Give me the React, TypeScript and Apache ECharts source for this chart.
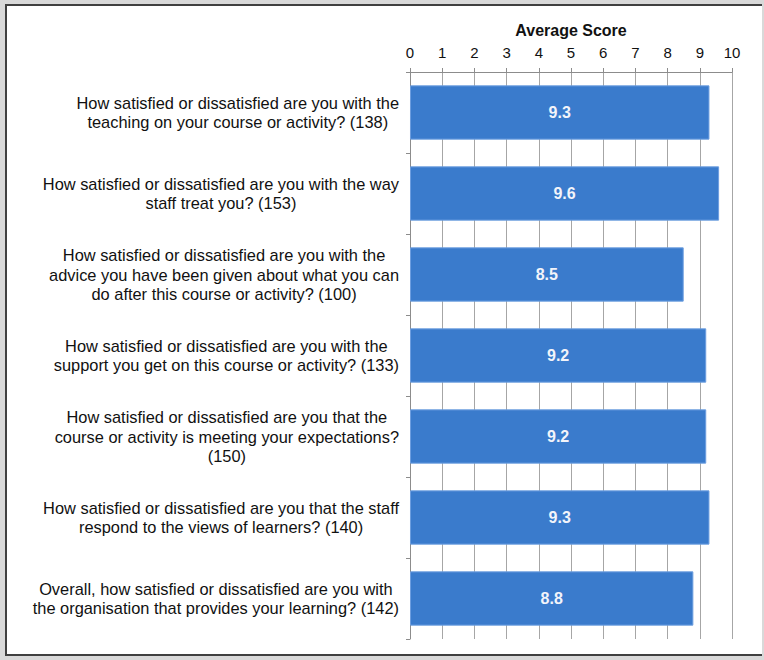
import React, { useEffect, useRef } from "react";
import * as echarts from "echarts";

// Survey questions, one entry per line of the wrapped label
const questions: string[][] = [
  ["How satisfied or dissatisfied are you with the", "teaching on your course or activity? (138)"],
  ["How satisfied or dissatisfied are you with the way", "staff treat you? (153)"],
  [
    "How satisfied or dissatisfied are you with the",
    "advice you have been given about what you can",
    "do after this course or activity? (100)",
  ],
  ["How satisfied or dissatisfied are you with the", "support you get on this course or activity? (133)"],
  [
    "How satisfied or dissatisfied are you that the",
    "course or activity is meeting your expectations?",
    "(150)",
  ],
  ["How satisfied or dissatisfied are you that the staff", "respond to the views of learners? (140)"],
  [
    "Overall, how satisfied or dissatisfied are you with",
    "the organisation that provides your learning? (142)",
  ],
];

const averageScores: number[] = [9.3, 9.6, 8.5, 9.2, 9.2, 9.3, 8.8];

const scoreAxisMin = 0;
const scoreAxisMax = 10;
const scoreAxisStep = 1;

const FONT = "'Liberation Sans', Arial, sans-serif";

export default function App() {
  const ref = useRef<HTMLDivElement>(null);

  useEffect(() => {
    if (!ref.current) return;
    const chart = echarts.init(ref.current, null, { renderer: "svg" });
    const categories = questions.map((q) => q.join("\n"));
    chart.setOption({
      animation: false,
      textStyle: { fontFamily: FONT },
      grid: { left: 410, right: 32, top: 72, bottom: 21 },
      xAxis: {
        type: "value",
        position: "top",
        min: scoreAxisMin,
        max: scoreAxisMax,
        interval: scoreAxisStep,
        name: "Average Score",
        nameLocation: "middle",
        nameGap: 34,
        nameTextStyle: { fontFamily: FONT, fontWeight: "bold", fontSize: 16, color: "#111" },
        axisLine: { show: true, lineStyle: { color: "#8c8c8c", width: 1 } },
        axisTick: { show: true, length: 4, lineStyle: { color: "#8c8c8c" } },
        axisLabel: { fontFamily: FONT, fontSize: 15, color: "#111", margin: 12 },
        splitLine: { show: true, lineStyle: { color: "#a6a6a6", width: 1 } },
      },
      yAxis: {
        type: "category",
        inverse: true,
        data: categories,
        axisLine: { show: true, lineStyle: { color: "#8c8c8c", width: 1 } },
        axisTick: { show: true, length: 4, lineStyle: { color: "#8c8c8c" } },
        axisLabel: {
          margin: 11,
          formatter: (v: string) =>
            v
              .split("\n")
              .map((l) => `{q|${l}}`)
              .join("\n"),
          rich: {
            q: {
              fontFamily: FONT,
              fontSize: 16.4,
              lineHeight: 19.5,
              color: "#111",
              align: "center",
            },
          },
        },
      },
      series: [
        {
          type: "bar",
          data: averageScores,
          barCategoryGap: "33%",
          itemStyle: { color: "#3a7bcc", borderColor: "#6d9ee0", borderWidth: 1 },
          label: {
            show: true,
            position: "inside",
            formatter: (p: any) => p.value.toFixed(1),
            color: "#f2f4fa",
            fontFamily: FONT,
            fontWeight: "bold",
            fontSize: 16,
          },
        },
      ],
    });
    return () => chart.dispose();
  }, []);

  return (
    <div
      style={{
        position: "fixed",
        left: 0,
        top: 0,
        width: 764,
        height: 660,
        background: "#d9d9d9",
      }}
    >
      <div
        style={{
          position: "absolute",
          left: 5,
          top: 4,
          width: 757,
          height: 652,
          background: "#ffffff",
          borderLeft: "2px solid #404040",
          borderTop: "2px solid #404040",
          borderBottom: "2px solid #404040",
          boxSizing: "border-box",
        }}
      />
      <div ref={ref} style={{ position: "absolute", left: 0, top: 0, width: 764, height: 660 }} />
    </div>
  );
}
